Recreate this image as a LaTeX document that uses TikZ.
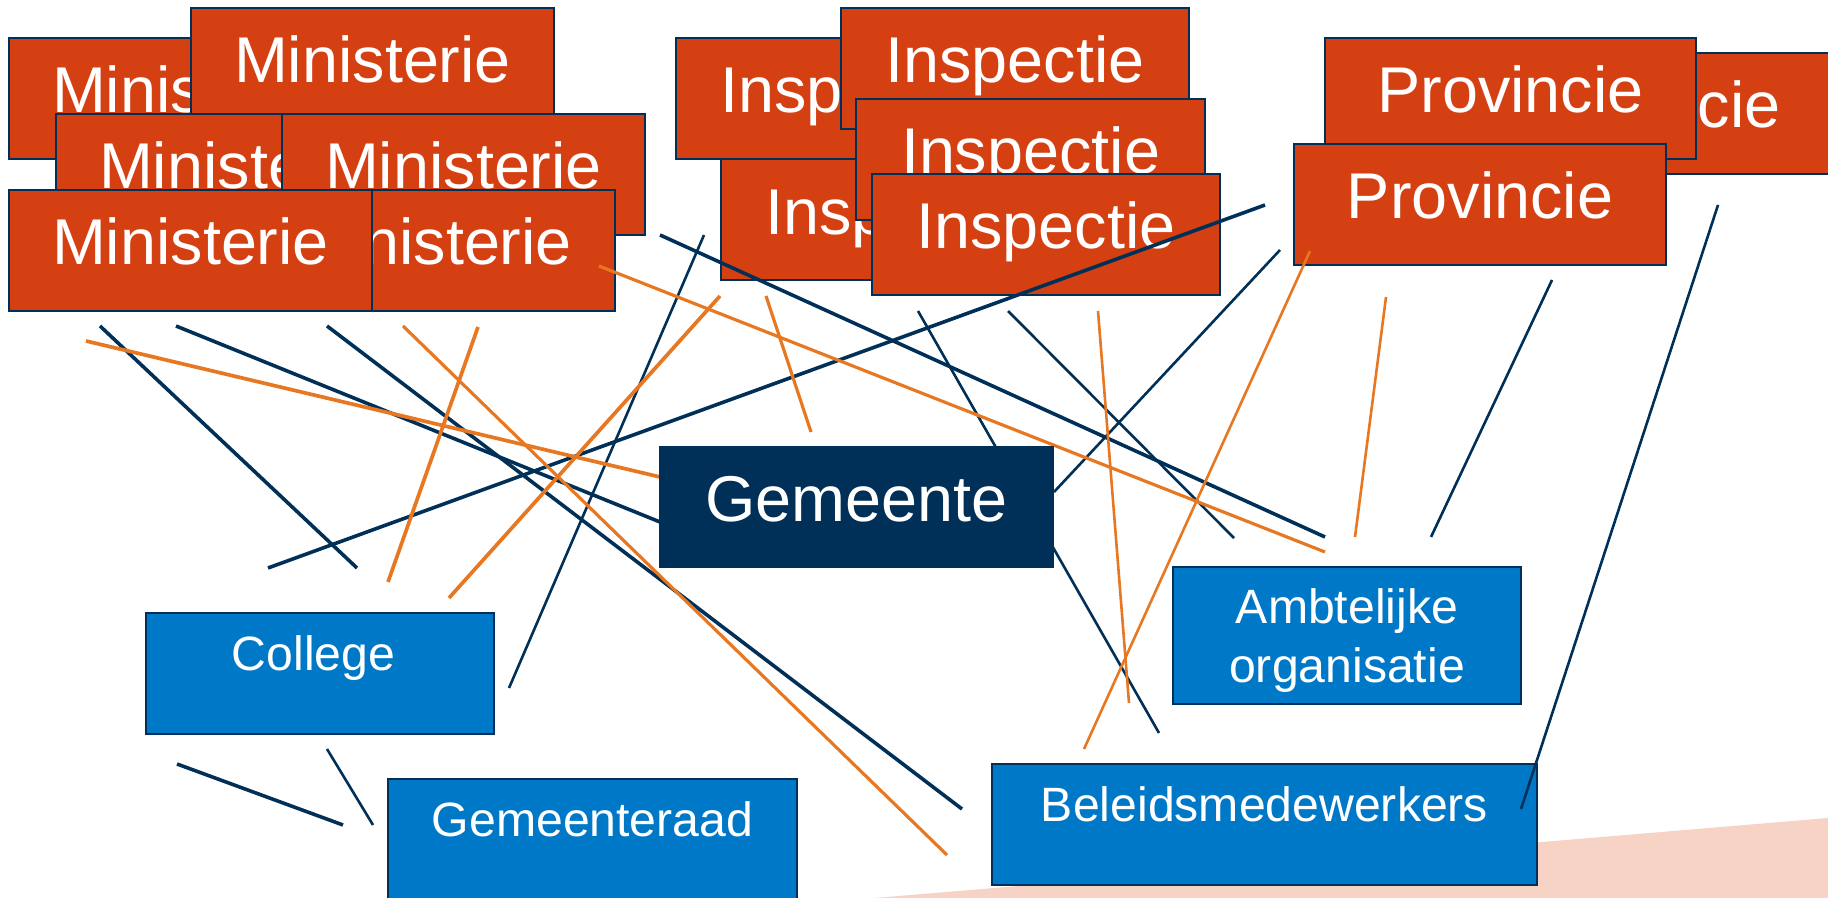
\documentclass[tikz,border=0pt]{standalone}
\usepackage{fontspec}
\setmainfont{Liberation Sans}
\definecolor{rood}{HTML}{D54012}
\definecolor{navy}{HTML}{003057}
\definecolor{blauw}{HTML}{0078C8}
\definecolor{oranje}{HTML}{E87722}
\definecolor{perzik}{HTML}{F6D3C4}
\begin{document}
\begin{tikzpicture}[x=0.01cm,y=-0.01cm,
  redbox/.style={draw=navy, line width=0.6pt, fill=rood, text=white,
    minimum width=3.63cm, minimum height=1.21cm, inner sep=0pt,
    font=\fontsize{18.4}{22}\selectfont, text height=0.47cm, text depth=0.18cm},
  inspbox/.style={redbox, minimum width=3.48cm},
  provbox/.style={redbox, minimum width=3.71cm},
  gembox/.style={fill=navy, text=white, minimum width=3.95cm, minimum height=1.22cm,
    inner sep=0pt, font=\fontsize{18.4}{22}\selectfont, text height=0.47cm, text depth=0.19cm},
  bluebox/.style={draw=navy, line width=0.57pt, fill=blauw, text=white,
    minimum height=1.21cm, inner sep=0pt,
    font=\fontsize{13.7}{16.7}\selectfont, text height=0.344cm, text depth=0.40cm},
  nthick/.style={draw=navy, line width=1.02pt},
  nthin/.style={draw=navy, line width=0.74pt},
  othick/.style={draw=oranje, line width=1.05pt},
  omid/.style={draw=oranje, line width=0.9pt},
  othin/.style={draw=oranje, line width=0.74pt}]
\useasboundingbox (0,0) rectangle (1828,898);
\clip (0,0) rectangle (1828,898);
% background wedge
\fill[perzik] (875,898) -- (1828,818) -- (1828,898) -- cycle;
% Ministerie
\node[redbox] (m1) at (190.5,98.5) {Ministerie};
\node[redbox] (m2) at (372.5,68.5) {Ministerie};
\node[redbox] (m3) at (237.5,174.5) {Ministerie};
\node[redbox] (m4) at (463.5,174.5) {Ministerie};
\node[redbox] (m6) at (433.5,250.5) {Ministerie};
\node[redbox] (m5) at (190.5,250.5) {Ministerie};
% Inspectie
\node[inspbox] (i1) at (850,98.5) {Inspectie};
\node[inspbox] (i2) at (1015,68.5) {Inspectie};
\node[inspbox] (i3) at (895,219.5) {Inspectie};
\node[inspbox] (i4) at (1030.5,159.5) {Inspectie};
\node[inspbox] (i5) at (1046,234.5) {Inspectie};
% Provincie
\node[provbox] (p1) at (1647.5,113.5) {Provincie};
\node[provbox] (p2) at (1510.5,98.5) {Provincie};
\node[provbox] (p3) at (1480,204.5) {Provincie};
% blue boxes
\node[bluebox, minimum width=3.48cm] (col) at (320,673.5) {College\hspace*{0.13cm}};
\node[bluebox, minimum width=4.09cm] (raad) at (592.5,839.5) {Gemeenteraad};
\node[bluebox, minimum width=3.48cm, minimum height=1.37cm, text height=0.944cm, text depth=0cm] (amb) at (1347,635.5)
  {\begin{tabular}[b]{@{}c@{}}Ambtelijke\\organisatie\end{tabular}};
\node[bluebox, minimum width=5.45cm] (bel) at (1264.5,824.5) {Beleidsmedewerkers};
% line end points
\coordinate (a1) at (100,326);  \coordinate (b1) at (357,568);
\coordinate (a2) at (176,326);  \coordinate (b2) at (660,522);
\coordinate (a3) at (327,326);  \coordinate (b3) at (962,809);
\coordinate (a4) at (268,568);  \coordinate (b4) at (1265,205);
\coordinate (a5) at (509,688);  \coordinate (b5) at (704,235);
\coordinate (a6) at (660,235);  \coordinate (b6) at (1325,537);
\coordinate (a7) at (918,311);  \coordinate (b7) at (1159,733);
\coordinate (a8) at (1008,311); \coordinate (b8) at (1234,538);
\coordinate (a9) at (1054,492); \coordinate (b9) at (1280,250);
\coordinate (a10) at (1552,280); \coordinate (b10) at (1431,537);
\coordinate (a11) at (1718,205); \coordinate (b11) at (1521,809);
\coordinate (a12) at (177,764); \coordinate (b12) at (343,825);
\coordinate (a13) at (327,749); \coordinate (b13) at (373,825);
\coordinate (c1) at (86,341);   \coordinate (d1) at (660,477);
\coordinate (c2) at (403,326);  \coordinate (d2) at (947,855);
\coordinate (c3) at (478,327);  \coordinate (d3) at (388,582);
\coordinate (c4) at (720,296);  \coordinate (d4) at (449,598);
\coordinate (c5) at (599,266);  \coordinate (d5) at (1325,552);
\coordinate (c6) at (766,296);  \coordinate (d6) at (811,432);
\coordinate (c7) at (1098,311); \coordinate (d7) at (1129,703);
\coordinate (c8) at (1310,251); \coordinate (d8) at (1084,749);
\coordinate (c9) at (1386,297); \coordinate (d9) at (1355,537);
% navy lines
\draw[nthick] (a1) -- (b1);
\draw[nthick] (a2) -- (b2);
\draw[nthick] (a3) -- (b3);
\draw[nthick] (a4) -- (b4);
\draw[nthin] (a5) -- (b5);
\draw[nthick] (a6) -- (b6);
\draw[nthin] (a7) -- (b7);
\draw[nthin] (a8) -- (b8);
\draw[nthin] (a9) -- (b9);
\draw[nthin] (a10) -- (b10);
\draw[nthin] (a11) -- (b11);
\draw[nthick] (a12) -- (b12);
\draw[nthin] (a13) -- (b13);
% orange lines
\draw[othick] (c1) -- (d1);
\draw[omid] (c2) -- (d2);
\draw[othick] (c3) -- (d3);
\draw[othick] (c4) -- (d4);
\draw[omid] (c5) -- (d5);
\draw[omid] (c6) -- (d6);
\draw[othin] (c7) -- (d7);
\draw[othin] (c8) -- (d8);
\draw[othin] (c9) -- (d9);
% Gemeente on top
\node[gembox] (gem) at (856.5,507) {Gemeente};
\end{tikzpicture}
\end{document}
